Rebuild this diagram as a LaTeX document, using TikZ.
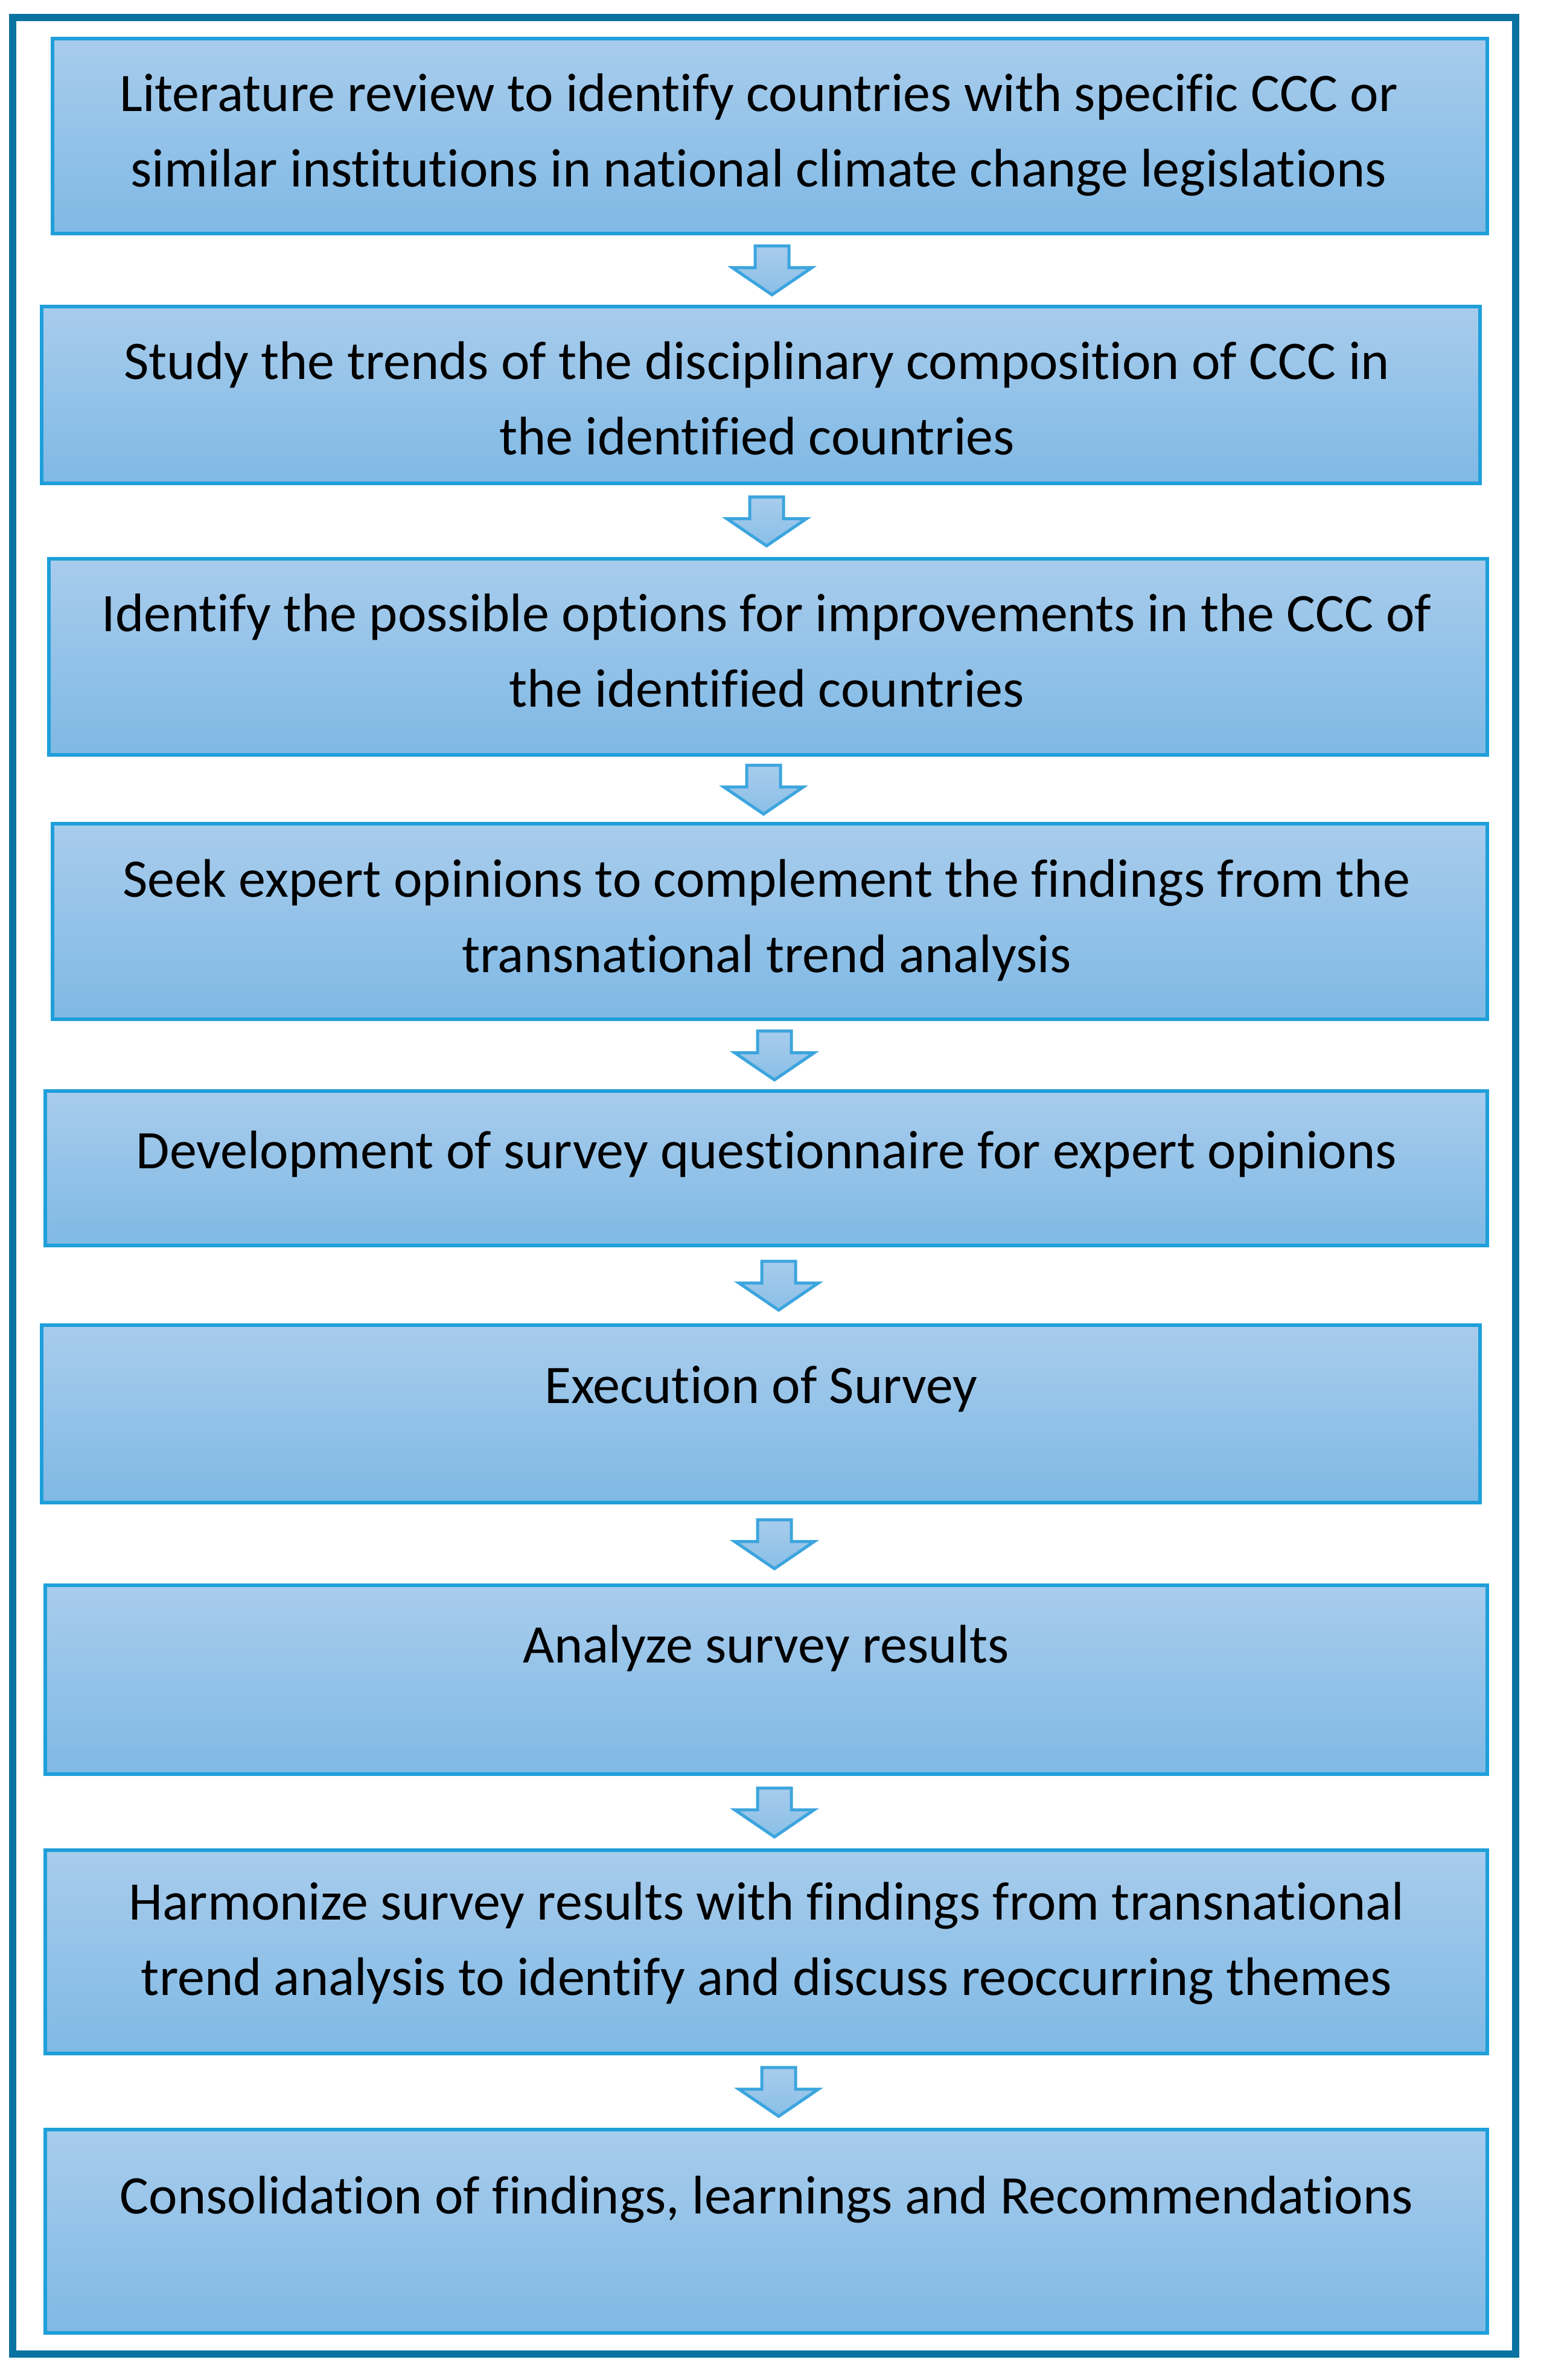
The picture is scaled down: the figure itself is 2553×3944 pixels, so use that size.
\documentclass[tikz,border=0pt]{standalone}
\usepackage{fontspec}
\setmainfont{Carlito}[Ligatures=NoCommon]
\usetikzlibrary{calc}
\definecolor{framecol}{RGB}{10,114,160}
\definecolor{boxborder}{RGB}{30,159,218}
\definecolor{boxtop}{RGB}{168,204,236}
\definecolor{boxbot}{RGB}{127,185,229}
\definecolor{arrborder}{RGB}{60,165,222}
\definecolor{arrtop}{RGB}{168,204,236}
\definecolor{arrbot}{RGB}{138,191,231}
\tikzset{
  stepbox/.style={rectangle, draw=boxborder, line width=1.2pt, top color=boxtop, bottom color=boxbot, inner sep=0pt},
  steptext/.style={anchor=base, align=center, inner sep=0pt, font=\fontsize{18}{25}\selectfont, text=black},
  arrowshape/.style={draw=arrborder, line width=1pt, top color=arrtop, bottom color=arrbot, line join=miter},
  pics/downarrow/.style={code={
    \path[arrowshape] (-28,-40) -- (28,-40) -- (28,-4) -- (66,-4) -- (0,41) -- (-66,-4) -- (-28,-4) -- cycle;
  }}
}
\begin{document}
\begin{tikzpicture}[x=0.2pt,y=-0.2pt]
\useasboundingbox (0,0) rectangle (2553,3944);
\fill[white] (0,0) rectangle (2553,3944);
% outer frame
\draw[framecol, line width=2.4pt] (21,29) rectangle (2511,3901);

% boxes
\node[stepbox, minimum width=475.4pt, minimum height=64.6pt] (b1) at (1275.5,225.5) {};
\node[stepbox, minimum width=476.6pt, minimum height=58.6pt] (b2) at (1260.5,654.5) {};
\node[stepbox, minimum width=476.6pt, minimum height=65.0pt] (b3) at (1272.5,1088.5) {};
\node[stepbox, minimum width=475.4pt, minimum height=64.8pt] (b4) at (1275.5,1527) {};
\node[stepbox, minimum width=477.8pt, minimum height=51.2pt] (b5) at (1269.5,1936) {};
\node[stepbox, minimum width=476.6pt, minimum height=58.8pt] (b6) at (1260.5,2343) {};
\node[stepbox, minimum width=477.8pt, minimum height=62.6pt] (b7) at (1269.5,2783.5) {};
\node[stepbox, minimum width=477.8pt, minimum height=67.4pt] (b8) at (1269.5,3234.5) {};
\node[stepbox, minimum width=477.8pt, minimum height=67.4pt] (b9) at (1269.5,3697.5) {};

% texts
\node[steptext] (t1) at (1257,310) {Literature review to identify countries with specific CCC or\\similar institutions in national climate change legislations};
\node[steptext] (t2) at (1254,753) {Study the trends of the disciplinary composition of CCC in\\the identified countries};
\node[steptext] (t3) at (1270,1171) {Identify the possible options for improvements in the CCC of\\the identified countries};
\node[steptext] (t4) at (1270,1611) {Seek expert opinions to complement the findings from the\\transnational trend analysis};
\node[steptext] (t5) at (1270,1936) {Development of survey questionnaire for expert opinions};
\node[steptext] (t6) at (1261,2325) {Execution of Survey};
\node[steptext] (t7) at (1269,2755) {Analyze survey results};
\node[steptext] (t8) at (1270,3306) {Harmonize survey results with findings from transnational\\trend analysis to identify and discuss reoccurring themes};
\node[steptext] (t9) at (1270,3668) {Consolidation of findings, learnings and Recommendations};

% block arrows between boxes
\coordinate (m1) at ($(b1.south)!0.5!(b2.north)$);
\coordinate (m2) at ($(b2.south)!0.5!(b3.north)$);
\coordinate (m3) at ($(b3.south)!0.5!(b4.north)$);
\coordinate (m4) at ($(b4.south)!0.5!(b5.north)$);
\coordinate (m5) at ($(b5.south)!0.5!(b6.north)$);
\coordinate (m6) at ($(b6.south)!0.5!(b7.north)$);
\coordinate (m7) at ($(b7.south)!0.5!(b8.north)$);
\coordinate (m8) at ($(b8.south)!0.5!(b9.north)$);
\coordinate (x1) at (1279,0);
\coordinate (x2) at (1270,0);
\coordinate (x3) at (1265,0);
\coordinate (x4) at (1283,0);
\coordinate (x5) at (1290,0);
\coordinate (x6) at (1283,0);
\coordinate (x7) at (1283,0);
\coordinate (x8) at (1290,0);
\foreach \i in {1,...,8} {
  \pic at (x\i |- m\i) {downarrow};
}
\end{tikzpicture}
\end{document}
